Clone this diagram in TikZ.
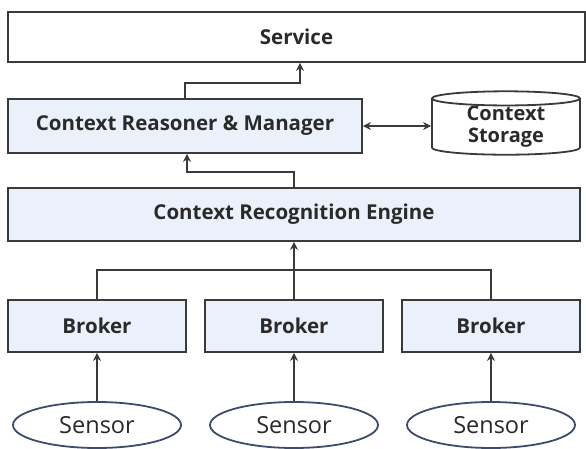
\documentclass[tikz,border=0pt]{standalone}
\usepackage{fontspec}
\setmainfont{Open Sans}
\usepackage{tikz}
\usetikzlibrary{shapes,arrows,positioning,calc,arrows.meta}

\definecolor{boxfill}{HTML}{EBF1FA}
\definecolor{boxline}{HTML}{3A3A3A}
\definecolor{sensorline}{HTML}{3E4C6C}
\definecolor{labeltext}{HTML}{2A2A2A}

\begin{document}
\begin{tikzpicture}[x=1pt, y=-1pt,
    block/.style={draw=boxline, line width=1.8pt, fill=boxfill, inner sep=0pt,
        text=labeltext, font=\fontsize{20.5}{24}\selectfont\bfseries},
    sensornode/.style={ellipse, draw=sensorline, line width=1.8pt, fill=white,
        minimum width=168pt, minimum height=46pt, inner sep=0pt,
        text=labeltext, font=\fontsize{23.5}{28}\selectfont},
    flow/.style={-{Stealth[length=8pt,width=8pt]}, line width=1.8pt, draw=boxline},
    wire/.style={line width=1.8pt, draw=boxline}]
    \useasboundingbox (0,0) rectangle (586,449);

    \node[block, fill=white, minimum width=577pt, minimum height=50pt] (service) at (296.5,37) {Service};
    \node[block, minimum width=354pt, minimum height=54pt] (reasoner) at (185,126) {Context Reasoner \& Manager};
    \node[cylinder, shape border rotate=90, aspect=0.18, draw=boxline, line width=1.8pt, fill=white,
        minimum width=148pt, minimum height=60pt, inner sep=0pt, align=center, text=labeltext,
        font=\fontsize{20}{22}\selectfont\bfseries] (storage) at (506,127) {Context\\Storage};
    \node[block, minimum width=572pt, minimum height=53pt] (engine) at (294,214.5) {Context Recognition Engine};

    \node[block, minimum width=178pt, minimum height=52pt] (broker1) at (97,326) {Broker};
    \node[block, minimum width=178pt, minimum height=52pt] (broker2) at (294,326) {Broker};
    \node[block, minimum width=178pt, minimum height=52pt] (broker3) at (491,326) {Broker};

    \node[sensornode] (sensor1) at (97,425) {Sensor};
    \node[sensornode] (sensor2) at (294,425) {Sensor};
    \node[sensornode] (sensor3) at (491,425) {Sensor};

    \coordinate (up1) at (300,83);
    \coordinate (up2) at (187,172);
    \coordinate (bus) at (294,270);

    \draw[flow] (reasoner.north) |- (up1) -- (up1 |- service.south);
    \draw[flow] (engine.north) |- (up2) -- (up2 |- reasoner.south);
    \draw[flow, {Stealth[length=8pt,width=8pt]}-{Stealth[length=8pt,width=8pt]}] (reasoner.east) -- (storage.west |- reasoner.east);
    \draw[wire] (broker1.north) |- (bus) -| (broker3.north);
    \draw[flow] (broker2.north) -- (engine.south);
    \draw[flow] (sensor1.north) -- (broker1.south);
    \draw[flow] (sensor2.north) -- (broker2.south);
    \draw[flow] (sensor3.north) -- (broker3.south);
\end{tikzpicture}
\end{document}
